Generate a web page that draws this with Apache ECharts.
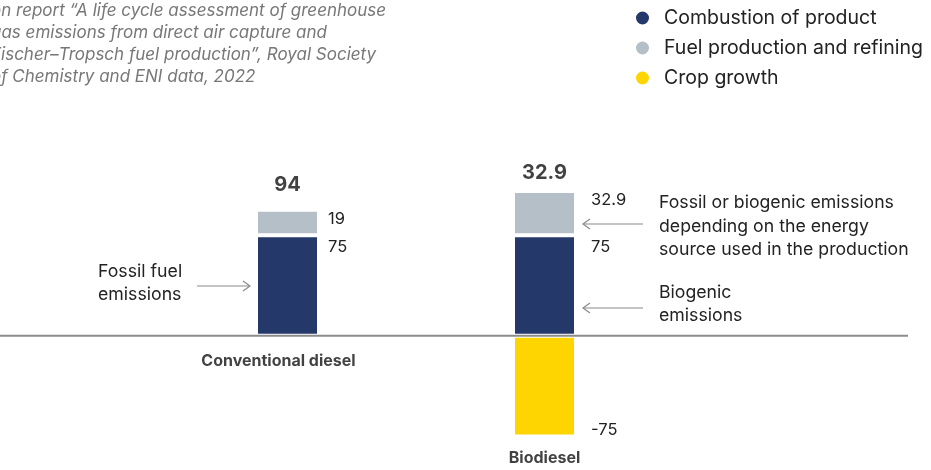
<!DOCTYPE html>
<html><head><meta charset="utf-8">
<script src="https://cdn.jsdelivr.net/npm/echarts@6/dist/echarts.min.js"></script>
<style>html,body{margin:0;padding:0;background:#fff}#c{width:931px;height:470px}</style>
</head><body><div id="c"></div>
<script>
const categories = ['Conventional diesel', 'Biodiesel'];
const seriesNames = ['Combustion of product', 'Fuel production and refining', 'Crop growth'];
const combustion = [75, 75];
const production = [19, 32.9];
const crop = [null, -75];
const totals = [94, 32.9];
const sourceLines = [
  'on report \u201cA life cycle assessment of greenhouse',
  'gas emissions from direct air capture and',
  'Fischer\u2013Tropsch fuel production\u201d, Royal Society',
  'of Chemistry and ENI data, 2022'
];

const FONT = 'Inter';
const C_NAVY = '#24386A', C_GREY = '#B4BFC7', C_YELLOW = '#FFD500';
const chart = echarts.init(document.getElementById('c'));

const valLabel = (dx, dy, pos, va) => ({
  show: true, position: pos, align: 'left', verticalAlign: va,
  offset: [dx, dy], color: '#222', fontSize: 16.5, fontFamily: FONT
});

const baseBar = {
  type: 'bar', stack: 'total', barWidth: 63, clip: false,
  itemStyle: { borderColor: '#fff', borderWidth: 2 }
};

chart.setOption({
  animation: false,
  grid: { left: 159, right: 258, top: 188.2, bottom: -1 },
  legend: {
    orient: 'vertical', left: 634, top: 7, itemGap: 8, padding: 0,
    icon: 'circle', itemWidth: 15, itemHeight: 15,
    data: seriesNames,
    textStyle: { fontFamily: FONT, fontSize: 19.5, color: '#222', lineHeight: 22, padding: [0, 0, 0, 9] }
  },
  xAxis: { type: 'category', data: categories, show: false },
  yAxis: { type: 'value', min: -100, max: 110, show: false },
  series: [
    Object.assign({}, baseBar, {
      name: seriesNames[0], itemStyle: Object.assign({ color: C_NAVY }, baseBar.itemStyle),
      data: combustion.map((v, i) => ({ value: v, label: valLabel(i === 0 ? 9 : 15, 3, ['100%', 0], 'top') }))
    }),
    Object.assign({}, baseBar, {
      name: seriesNames[1], itemStyle: Object.assign({ color: C_GREY }, baseBar.itemStyle),
      data: production.map((v, i) => ({ value: v, label: valLabel(i === 0 ? 9 : 15, 1, ['100%', 0], 'top') }))
    }),
    Object.assign({}, baseBar, {
      name: seriesNames[2], itemStyle: Object.assign({ color: C_YELLOW }, baseBar.itemStyle),
      data: crop.map((v, i) => ({ value: v, label: valLabel(15, 2, ['100%', '100%'], 'bottom') }))
    }),
    {
      type: 'scatter', symbolSize: 0, silent: true, clip: false,
      data: totals.map((v, i) => ({
        value: combustion[i] + production[i],
        label: { show: true, position: 'top', distance: i === 0 ? 15 : 8,
          formatter: String(v), fontFamily: FONT, fontWeight: 'bold', fontSize: 20, color: '#111' }
      }))
    },
    {
      type: 'scatter', symbolSize: 0, silent: true, clip: false,
      data: categories.map((name, i) => ({
        value: Math.min(0, crop[i] || 0),
        label: { show: true, position: 'bottom', distance: i === 0 ? 17 : 14, offset: [i === 0 ? -9 : 0, 0],
          formatter: name, fontFamily: FONT, fontWeight: 'bold', fontSize: 16, color: '#111' }
      }))
    }
  ]
});

const y0 = chart.convertToPixel({ yAxisIndex: 0 }, 0);
const arrowStyle = { stroke: '#8a8a8a', lineWidth: 1.2, fill: null };
const txt = (x, y, text, lh, extra) => ({
  type: 'text', x: x, y: y, z: 10,
  style: Object.assign({ text: text, fontFamily: FONT, fontSize: 17.7, fill: '#222', lineHeight: lh }, extra || {})
});
const arrow = (x1, x2, y) => {
  const d = x2 > x1 ? -7 : 7;
  return [
    { type: 'line', z: 10, shape: { x1: x1, y1: y, x2: x2, y2: y }, style: arrowStyle },
    { type: 'polyline', z: 10, shape: { points: [[x2 + d, y - 5], [x2, y], [x2 + d, y + 5]] }, style: arrowStyle }
  ];
};

chart.setOption({
  graphic: [
    { type: 'line', z: 5, shape: { x1: 0, y1: y0, x2: 908, y2: y0 }, style: { stroke: '#8c8c8c', lineWidth: 2 } },
    txt(-9, 0, sourceLines.join('\n'), 22, { fontSize: 17, fontStyle: 'italic', fill: '#777' }),
    txt(98, 260.5, 'Fossil fuel\nemissions', 23),
    ...arrow(197, 250, 286),
    txt(659, 191, 'Fossil or biogenic emissions\ndepending on the energy\nsource used in the production', 23.5),
    ...arrow(643, 583, 224),
    txt(659, 281.5, 'Biogenic\nemissions', 23),
    ...arrow(643, 583, 308)
  ]
});
</script></body></html>
